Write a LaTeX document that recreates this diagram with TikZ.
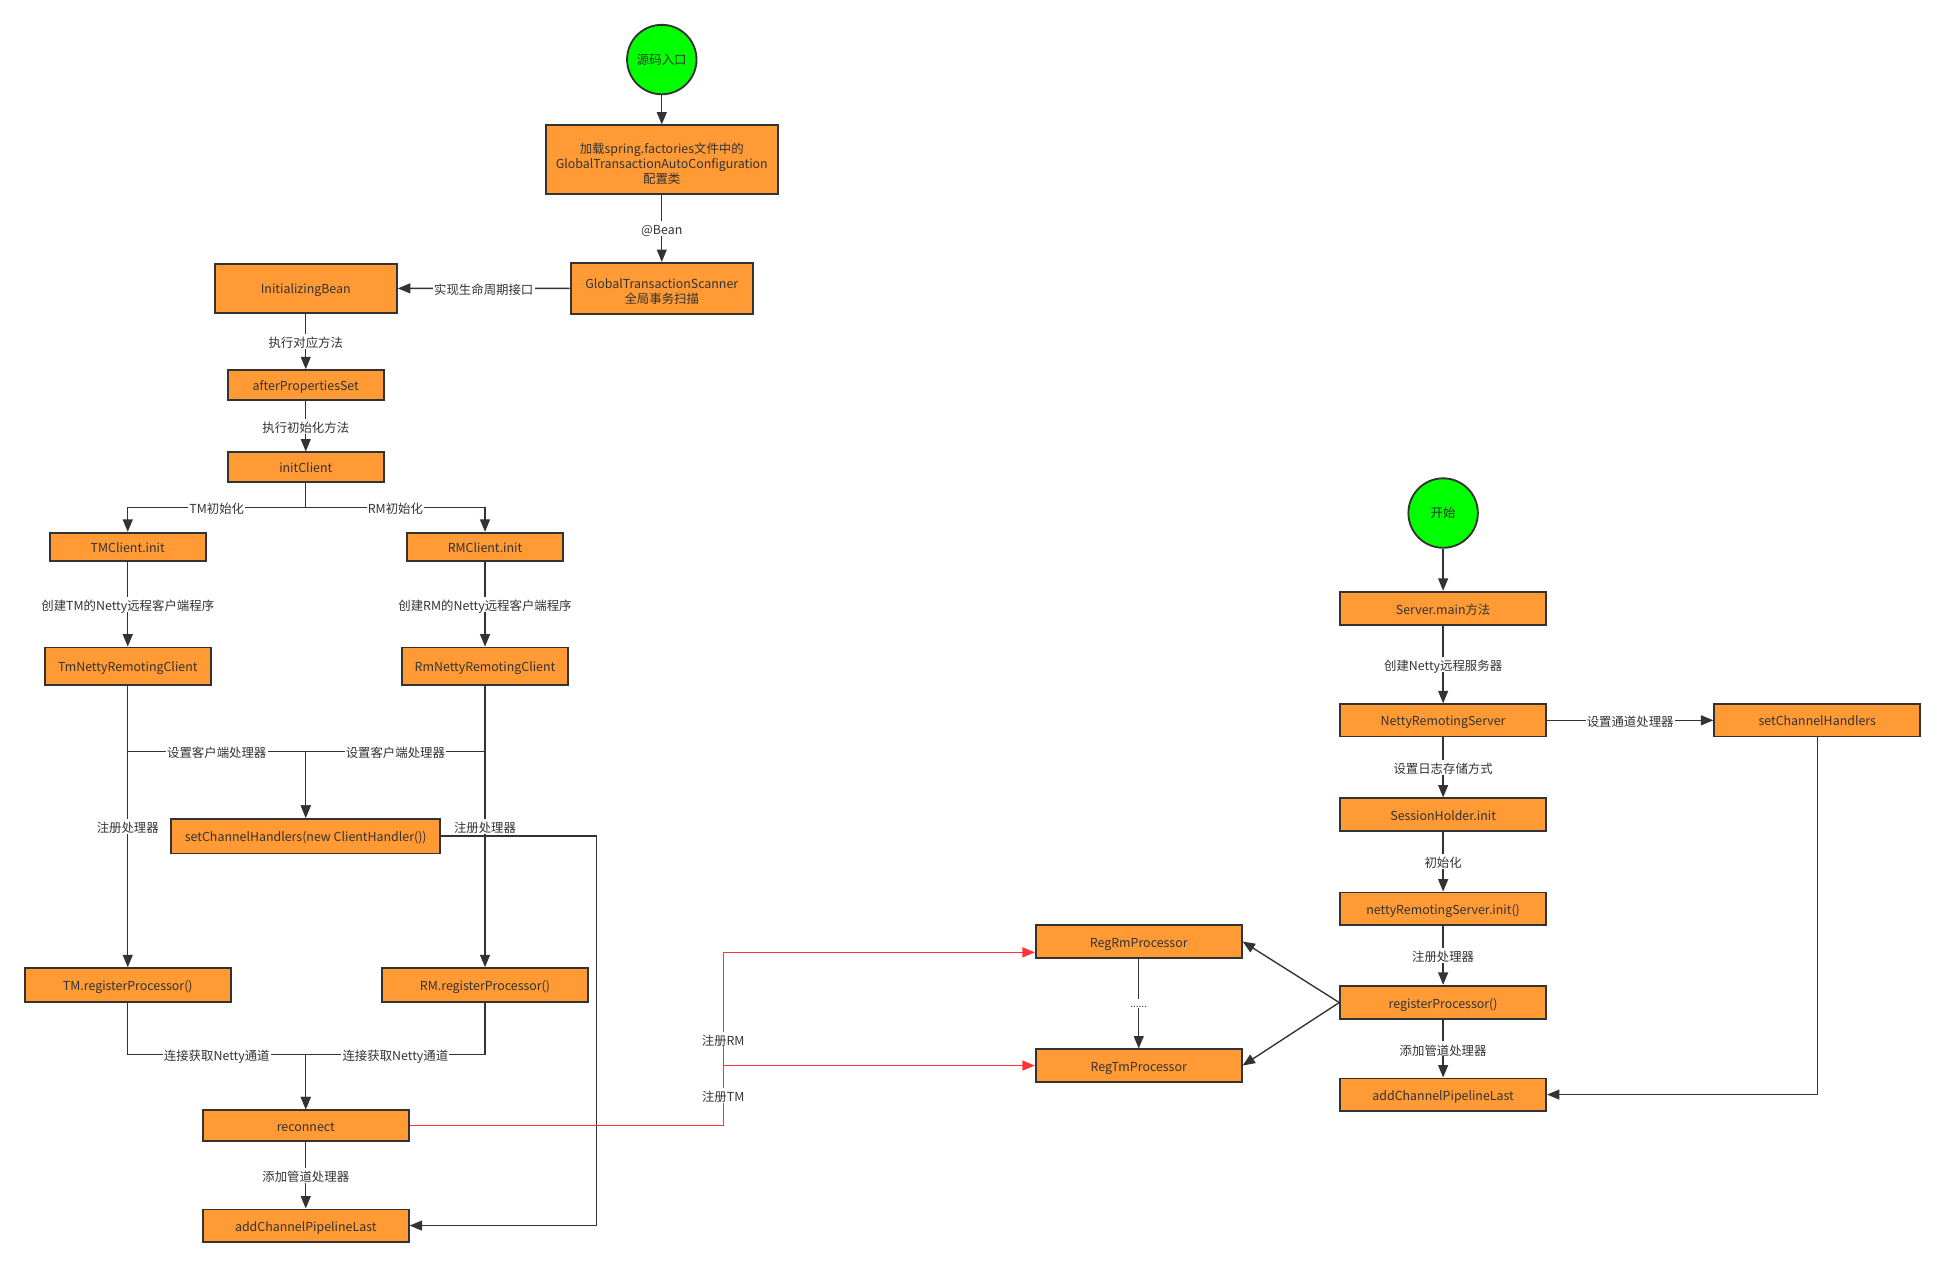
\documentclass[tikz,border=0pt]{standalone}
\usepackage{fontspec}
\setmainfont{Noto Sans CJK SC}
\usepackage{tikz}
\usetikzlibrary{arrows.meta,calc}
\definecolor{boxorange}{HTML}{FF9A35}
\definecolor{linegray}{HTML}{333333}
\definecolor{startgreen}{HTML}{00FF00}
\definecolor{flowred}{HTML}{FF3333}
\tikzset{every picture/.style={x=1pt,y=-1pt}}
\tikzset{
  stepbox/.style={draw=linegray, line width=1.5pt, fill=boxorange, text=linegray,
    inner sep=0pt, font=\fontsize{10}{12}\selectfont, minimum height=26,
    text height=9pt, text depth=0pt},
  startnode/.style={circle, draw=linegray, line width=1.5pt, fill=startgreen, text=linegray,
    inner sep=0pt, minimum size=56, font=\fontsize{10}{12}\selectfont},
  conn/.style={draw=linegray, line width=1.1pt, -{Triangle[length=10pt,width=8pt]}},
  redconn/.style={draw=flowred, line width=1.1pt, -{Triangle[length=10pt,width=8pt]}},
  lbl/.style={fill=white, inner sep=1pt, text=linegray, font=\fontsize{10}{12}\selectfont,
    text height=10pt, text depth=0pt}
}
% multi-line box text, #1 = extra room on top (pushes the lines down)
\newcommand{\boxlines}[2]{\raisebox{0pt}[\dimexpr\height+#1\relax][\depth]{\begin{tabular}{@{}c@{}}#2\end{tabular}}}
\begin{document}
\begin{tikzpicture}
    \useasboundingbox (0,0) rectangle (1568,1021);
    % Client side: startup chain
    \node[startnode] (src) at (533.5,48) {源码入口};
    \node[stepbox, minimum width=187, minimum height=55, text height=, text depth=] (loadcfg) at (533.5,128.6)
        {\boxlines{10pt}{加载spring.factories文件中的\\GlobalTransactionAutoConfiguration\\配置类}};
    \node[stepbox, minimum width=147, minimum height=41, text height=, text depth=] (scanner) at (533.5,232.4)
        {\boxlines{7pt}{GlobalTransactionScanner\\全局事务扫描}};
    \node[stepbox, minimum width=147, minimum height=40] (initbean) at (246.5,232.5) {InitializingBean};
    \node[stepbox, minimum width=126, minimum height=24] (afterset) at (246.5,310.4) {afterPropertiesSet};
    \node[stepbox, minimum width=126, minimum height=24] (initcli) at (246.5,376.7) {initClient};

    \draw[conn] (src) -- (loadcfg);
    \draw[conn] (loadcfg) -- node[lbl] {@Bean} (scanner);
    \draw[conn] (scanner) -- node[lbl] {实现生命周期接口} (initbean);
    \draw[conn] (initbean) -- node[lbl] {执行对应方法} (afterset);
    \draw[conn] (afterset) -- node[lbl] {执行初始化方法} (initcli);

    % TM and RM branches
    \node[stepbox, minimum width=126, minimum height=23] (tminit) at (103,441) {TMClient.init};
    \node[stepbox, minimum width=126, minimum height=23] (rminit) at (391,441) {RMClient.init};
    \node[stepbox, minimum width=134, minimum height=30] (tmnetty) at (103,537) {TmNettyRemotingClient};
    \node[stepbox, minimum width=134, minimum height=30] (rmnetty) at (391,537) {RmNettyRemotingClient};
    \node[stepbox, minimum width=217, minimum height=28] (clihandler) at (246.5,674) {setChannelHandlers(new ClientHandler())};
    \node[stepbox, minimum width=166, minimum height=27] (tmreg) at (103,794) {TM.registerProcessor()};
    \node[stepbox, minimum width=166, minimum height=27] (rmreg) at (391,794) {RM.registerProcessor()};
    \node[stepbox, minimum width=166, minimum height=25] (reconn) at (246.5,907.5) {reconnect};
    \node[stepbox, minimum width=166, minimum height=26] (cliadd) at (246.5,988) {addChannelPipelineLast};

    \coordinate (split) at (246.5,409);
    \coordinate (hjoin) at (246.5,606);
    \coordinate (cjoin) at (246.5,850);
    \draw[conn] (initcli) -- (split) -| node[lbl, pos=0.25] {TM初始化} (tminit);
    \draw[conn] (split) -| node[lbl, pos=0.25] {RM初始化} (rminit);
    \draw[conn] (tminit) -- node[lbl] {创建TM的Netty远程客户端程序} (tmnetty);
    \draw[conn] (rminit) -- node[lbl] {创建RM的Netty远程客户端程序} (rmnetty);
    \draw[conn] (tmnetty.south) |- node[lbl, pos=0.75] {设置客户端处理器} (hjoin) -- (clihandler);
    \draw[conn] (rmnetty.south) |- node[lbl, pos=0.75] {设置客户端处理器} (hjoin) -- (clihandler);
    \draw[conn] (tmnetty) -- node[lbl] {注册处理器} (tmreg);
    \draw[conn] (rmnetty) -- node[lbl] {注册处理器} (rmreg);
    \draw[conn] (tmreg.south) |- node[lbl, pos=0.75] {连接获取Netty通道} (cjoin) -- (reconn);
    \draw[conn] (rmreg.south) |- node[lbl, pos=0.75] {连接获取Netty通道} (cjoin) -- (reconn);
    \draw[conn] (reconn) -- node[lbl] {添加管道处理器} (cliadd);
    \draw[conn] (clihandler.east) -- ++(125,0) |- (cliadd.east);

    % Processors
    \node[stepbox, minimum width=166, minimum height=26] (regrm) at (918,759) {RegRmProcessor};
    \node[stepbox, minimum width=166, minimum height=26] (regtm) at (918,859) {RegTmProcessor};
    \coordinate (rbend) at (583,907.5);
    \draw[redconn] (reconn.east) -- (rbend) |- node[lbl, pos=0.25] {注册RM} ($(regrm.south west)+(0,-5)$);
    \draw[redconn] (reconn.east) -- (rbend) |- node[lbl, pos=0.25] {注册TM} (regtm.west);
    \draw[conn] (regrm) -- node[lbl, font=\fontsize{8}{9}\selectfont, text height=6pt] {......} (regtm);

    % Server side
    \node[startnode] (start) at (1163.4,413.6) {开始};
    \node[stepbox, minimum width=166, minimum height=27] (srvmain) at (1163.4,490.5) {Server.main方法};
    \node[stepbox, minimum width=166, minimum height=26] (srvnetty) at (1163.4,580.7) {NettyRemotingServer};
    \node[stepbox, minimum width=166, minimum height=26] (srvhandler) at (1465,580.7) {setChannelHandlers};
    \node[stepbox, minimum width=166, minimum height=26] (session) at (1163.4,656.6) {SessionHolder.init};
    \node[stepbox, minimum width=166, minimum height=26] (srvinit) at (1163.4,732.5) {nettyRemotingServer.init()};
    \node[stepbox, minimum width=166, minimum height=27] (srvreg) at (1163.4,808.2) {registerProcessor()};
    \node[stepbox, minimum width=166, minimum height=26] (srvadd) at (1163.4,882.4) {addChannelPipelineLast};

    \draw[conn] (start) -- (srvmain);
    \draw[conn] (srvmain) -- node[lbl] {创建Netty远程服务器} (srvnetty);
    \draw[conn] (srvnetty) -- node[lbl] {设置通道处理器} (srvhandler);
    \draw[conn] (srvnetty) -- node[lbl] {设置日志存储方式} (session);
    \draw[conn] (session) -- node[lbl] {初始化} (srvinit);
    \draw[conn] (srvinit) -- node[lbl] {注册处理器} (srvreg);
    \draw[conn] (srvreg) -- node[lbl] {添加管道处理器} (srvadd);
    \draw[conn] (srvhandler.south) |- (srvadd.east);
    \draw[conn] (srvreg.west) -- (regrm.east);
    \draw[conn] (srvreg.west) -- (regtm.east);
\end{tikzpicture}
\end{document}
